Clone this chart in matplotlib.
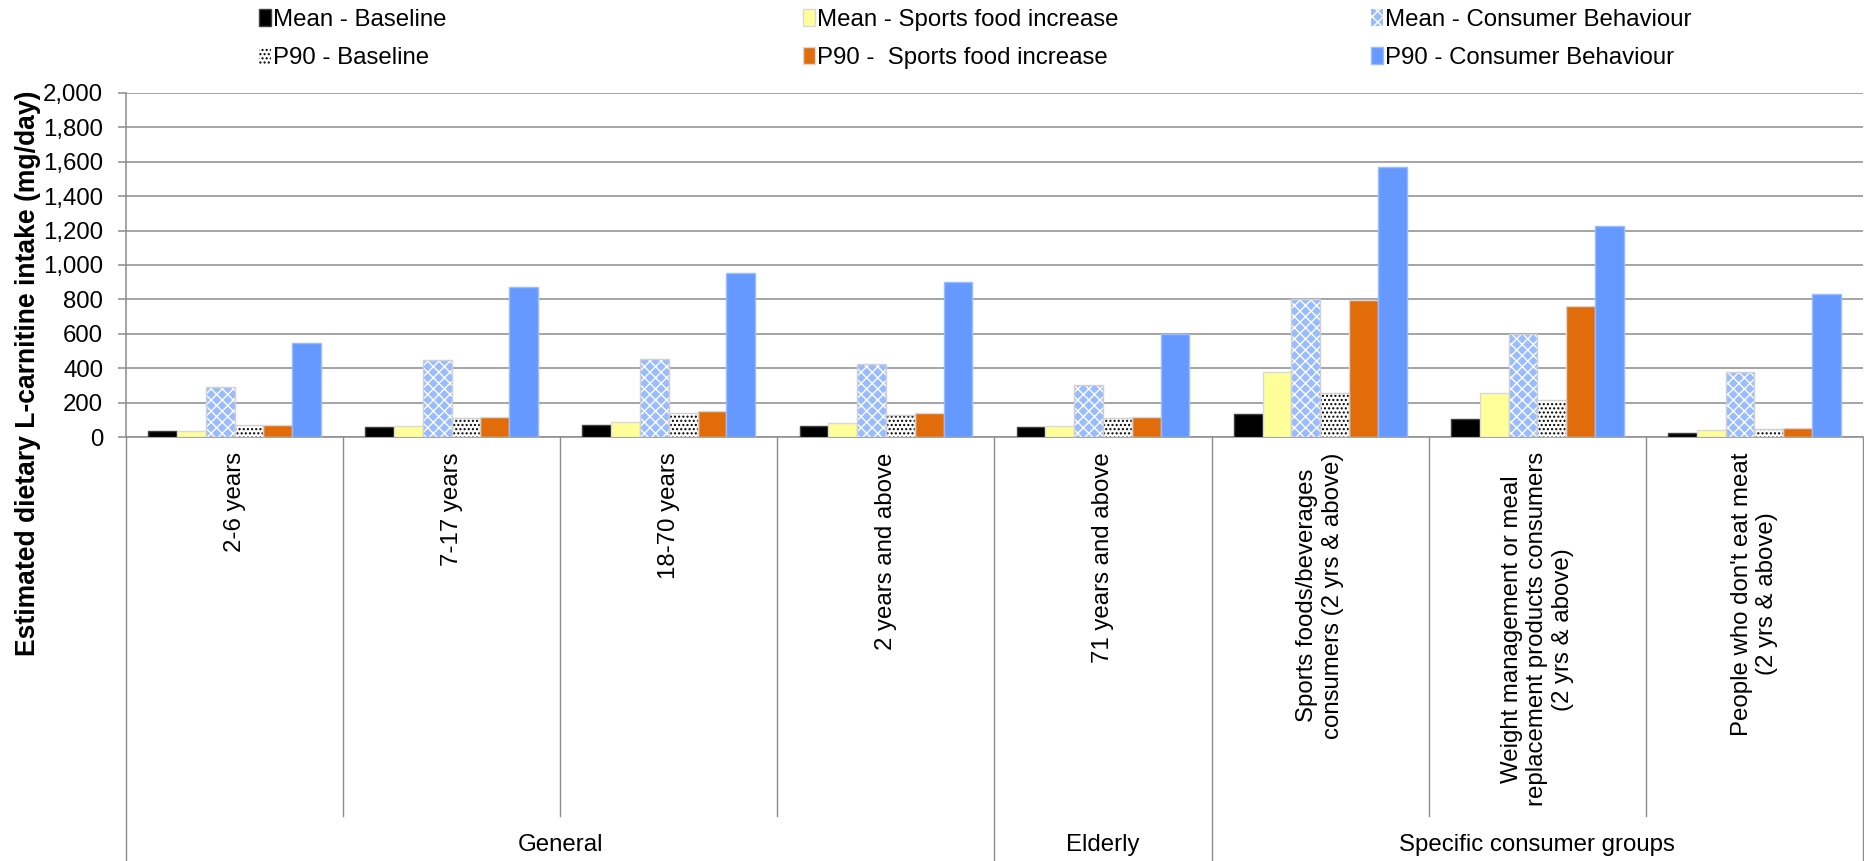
import matplotlib
matplotlib.use("Agg")
import matplotlib.pyplot as plt
import numpy as np
from matplotlib.ticker import FuncFormatter, MultipleLocator
from matplotlib.lines import Line2D

plt.rcParams['font.family'] = ['Liberation Sans', 'DejaVu Sans']
plt.rcParams['hatch.linewidth'] = 1.0

categories = ["2-6 years", "7-17 years", "18-70 years", "2 years and above",
              "71 years and above",
              "Sports foods/beverages\nconsumers (2 yrs & above)",
              "Weight management or meal\nreplacement products consumers\n(2 yrs & above)",
              "People who don't eat meat\n(2 yrs & above)"]
groups = ["General", "Elderly", "Specific consumer groups"]
group_spans = [(0, 3), (4, 4), (5, 7)]

mean_baseline = [33, 56, 68, 62, 58, 134, 103, 26]
mean_sports = [35, 66, 87, 80, 64, 379, 253, 41]
mean_consumer = [291, 445, 451, 427, 303, 802, 598, 379]
p90_baseline = [68, 111, 140, 130, 111, 253, 218, 49]
p90_sports = [67, 116, 151, 138, 115, 798, 759, 52]
p90_consumer = [544, 872, 951, 899, 600, 1569, 1229, 831]

series_names = ["Mean - Baseline", "Mean - Sports food increase", "Mean - Consumer Behaviour",
                "P90 - Baseline", "P90 -  Sports food increase", "P90 - Consumer Behaviour"]
series_values = [mean_baseline, mean_sports, mean_consumer, p90_baseline, p90_sports, p90_consumer]

W, H = 1865, 861
fig = plt.figure(figsize=(W / 100, H / 100), dpi=100)
ax = fig.add_axes([126 / W, 1 - 437 / H, (1863 - 126) / W, (437 - 93) / H])

FS = 17.3
x = np.arange(len(categories))
bw = 0.1326
styles = [
    dict(color="#000000", edgecolor="#404040", hatch=None),
    dict(color="#FFFF99", edgecolor="#D9D9D9", hatch=None),
    dict(color="#99BBFF", edgecolor="#D0D0D0", hatch="xxx", hatchcolor="white"),
    dict(color="#FFFFFF", edgecolor="#D0D0D0", hatch="....", hatchcolor="black"),
    dict(color="#E36C0A", edgecolor="#D9D9D9", hatch=None),
    dict(color="#6699FF", edgecolor="#99BBFF", hatch=None),
]
handles = []
for i, (vals, st) in enumerate(zip(series_values, styles)):
    pos = x + (i - 2.5) * bw
    if st["hatch"]:
        b = ax.bar(pos, vals, bw, color=st["color"], edgecolor=st["hatchcolor"],
                   hatch=st["hatch"], linewidth=0, zorder=3)
        ax.bar(pos, vals, bw, fill=False, edgecolor=st["edgecolor"], linewidth=1.0, zorder=4)
    else:
        b = ax.bar(pos, vals, bw, color=st["color"], edgecolor=st["edgecolor"],
                   linewidth=1.0, zorder=3)
    handles.append(b)

ax.set_xlim(-0.5, len(categories) - 0.5)
ax.set_ylim(0, 2000)
ax.yaxis.set_major_locator(MultipleLocator(200))
ax.yaxis.set_major_formatter(FuncFormatter(lambda v, p: f"{v:,.0f}"))
ax.grid(axis="y", color="#8C8C8C", linewidth=1.1, zorder=0)
ax.set_axisbelow(True)
for s in ["top", "right"]:
    ax.spines[s].set_visible(False)
for s in ["left", "bottom"]:
    ax.spines[s].set_color("#8C8C8C")
    ax.spines[s].set_linewidth(1.1)
ax.tick_params(axis="y", length=5.8, width=1.1, color="#8C8C8C", pad=10.5, labelsize=FS)
ax.set_xticks([])

tr = ax.get_xaxis_transform()
for i, c in enumerate(categories):
    ax.text(i, -0.044, c, transform=tr, rotation=90, ha="center", va="top",
            multialignment="center", fontsize=FS)

short_y = -(816 - 437) / 344
long_y = -(861 - 437) / 344
group_edges = {-0.5, 3.5, 4.5, 7.5}
for e in np.arange(-0.5, len(categories), 1.0):
    yb = long_y if e in group_edges else short_y
    ax.add_line(Line2D([e, e], [0, yb], transform=tr, color="#8C8C8C", linewidth=1.0, clip_on=False))

for g, (a, b) in zip(groups, group_spans):
    ax.text((a + b) / 2, -(845 - 437) / 344, g, transform=tr, ha="center", va="center", fontsize=FS)

fig.text(28 / W, 1 - 373 / H, "Estimated dietary L-carnitine intake (mg/day)", rotation=90,
         ha="center", va="center", fontsize=19.1, fontweight="bold")

col_x = [259, 803, 1371]
for k in range(3):
    hs = [handles[k], handles[k + 3]]
    ls = [series_names[k], series_names[k + 3]]
    fig.legend(hs, ls, loc="upper left", bbox_to_anchor=(col_x[k] / W, 1 - 9 / H),
               frameon=False, fontsize=FS, handlelength=0.5, handleheight=0.7,
               handletextpad=0.1, labelspacing=0.65, borderpad=0, borderaxespad=0)

fig.savefig("out.png", dpi=100)
